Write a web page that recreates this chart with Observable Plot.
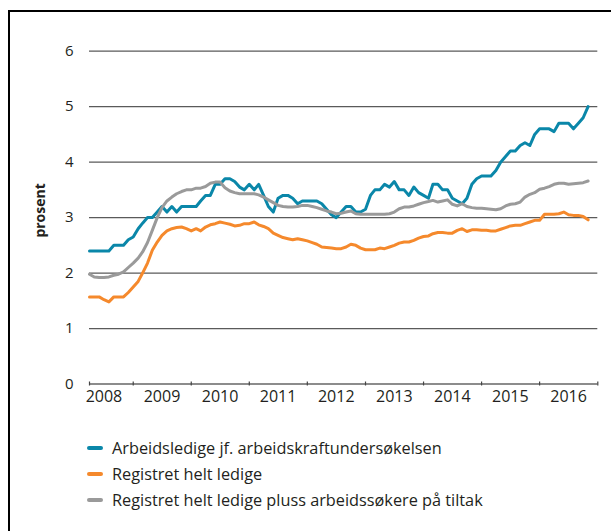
<!DOCTYPE html>
<html><head><meta charset="utf-8">
<script src="https://cdn.jsdelivr.net/npm/d3@7"></script>
<script src="https://cdn.jsdelivr.net/npm/@observablehq/plot@0.6"></script>
<style>
body{margin:0;background:#fff;}
#wrap{position:relative;width:611px;height:531px;overflow:hidden;font-family:"Open Sans",sans-serif;background:#fff;}
#frame{position:absolute;left:8px;top:10px;width:700px;height:600px;border-left:2px solid #000;border-top:2px solid #000;}
#chart{position:absolute;left:0;top:0;}
#legend{position:absolute;left:87px;top:435px;}
.item{display:flex;align-items:center;height:26px;font-size:16.3px;color:#231f20;white-space:nowrap;}
.sw{width:16px;height:4px;margin-right:9px;border-radius:2px;}
</style></head>
<body>
<div id="wrap"><div id="frame"></div><div id="chart"></div><div id="legend"></div></div>
<script>
const names = [
  "Arbeidsledige jf. arbeidskraftundersøkelsen",
  "Registret helt ledige",
  "Registret helt ledige pluss arbeidssøkere på tiltak"
];
const colors = ["#0a87a9", "#f5892c", "#9a9a9a"];
const startMonth = "2008-04-01";
const yTicks = [0, 1, 2, 3, 4, 5, 6];
const gridValues = [1, 2, 3, 4, 5, 6];
const yearLabels = [2008, 2009, 2010, 2011, 2012, 2013, 2014, 2015, 2016];
const yearBoundaries = [2009, 2010, 2011, 2012, 2013, 2014, 2015, 2016, 2017];
const yLabel = "prosent";

const aku = [2.4,2.4,2.4,2.4,2.4,2.5,2.5,2.5,2.6,2.65,2.8,2.9,3.0,3.0,3.1,3.2,3.1,3.2,3.1,3.2,
3.2,3.2,3.2,3.3,3.4,3.4,3.6,3.6,3.7,3.7,3.65,3.55,3.5,3.6,3.5,3.6,3.4,3.2,3.1,3.35,
3.4,3.4,3.35,3.25,3.3,3.3,3.3,3.3,3.25,3.15,3.05,3.0,3.1,3.2,3.2,3.1,3.1,3.15,3.4,3.5,
3.5,3.6,3.55,3.65,3.5,3.5,3.4,3.55,3.45,3.4,3.35,3.6,3.6,3.5,3.5,3.35,3.3,3.25,3.35,3.6,
3.7,3.75,3.75,3.75,3.85,4.0,4.1,4.2,4.2,4.3,4.35,4.3,4.5,4.6,4.6,4.6,4.55,4.7,4.7,4.7,
4.6,4.7,4.8,5.0];
const registrert = [1.57,1.57,1.57,1.52,1.48,1.57,1.57,1.57,1.65,1.75,1.85,2.0,2.18,2.41,2.56,2.68,2.76,2.8,2.82,2.83,
2.8,2.76,2.8,2.76,2.83,2.87,2.89,2.92,2.9,2.88,2.85,2.86,2.89,2.89,2.92,2.87,2.84,2.8,2.72,2.68,
2.64,2.62,2.6,2.62,2.6,2.58,2.55,2.52,2.47,2.46,2.45,2.44,2.44,2.47,2.52,2.5,2.45,2.42,2.42,2.42,
2.45,2.44,2.47,2.5,2.54,2.56,2.56,2.59,2.63,2.66,2.67,2.71,2.73,2.73,2.72,2.72,2.77,2.8,2.75,2.78,
2.78,2.77,2.77,2.76,2.76,2.79,2.82,2.85,2.86,2.86,2.89,2.92,2.95,2.95,3.06,3.06,3.06,3.07,3.1,3.05,
3.04,3.04,3.02,2.96];
const tiltak = [1.98,1.93,1.92,1.92,1.93,1.96,1.98,2.02,2.1,2.18,2.27,2.38,2.55,2.77,3.0,3.18,3.3,3.37,3.43,3.47,
3.5,3.5,3.53,3.53,3.56,3.62,3.64,3.64,3.54,3.48,3.45,3.43,3.43,3.43,3.43,3.41,3.37,3.32,3.27,3.22,
3.2,3.19,3.19,3.2,3.22,3.22,3.2,3.18,3.15,3.12,3.1,3.07,3.08,3.1,3.12,3.07,3.06,3.06,3.06,3.06,
3.06,3.06,3.07,3.1,3.16,3.19,3.19,3.21,3.24,3.27,3.29,3.31,3.28,3.3,3.32,3.24,3.21,3.25,3.2,3.18,
3.17,3.17,3.16,3.15,3.14,3.16,3.21,3.24,3.25,3.28,3.37,3.42,3.45,3.51,3.53,3.56,3.6,3.62,3.62,3.6,
3.61,3.62,3.63,3.66];

const seriesValues = [aku, registrert, tiltak];
const x0 = new Date(startMonth + "T00:00:00Z");
const months = d3.utcMonth.range(x0, d3.utcMonth.offset(x0, aku.length));
const rows = [];
seriesValues.forEach((vals, s) => vals.forEach((v, i) => rows.push({date: months[i], value: v, name: names[s]})));
const tickDates = [x0].concat(yearBoundaries.map(y => new Date(Date.UTC(y, 0, 1))));
const labelDates = yearLabels.map(y => new Date(Date.UTC(y, 6, 1)));

const chart = Plot.plot({
  width: 611, height: 420,
  marginLeft: 89, marginRight: 13.7, marginTop: 50.7, marginBottom: 36.5,
  x: {type: "utc", domain: [x0, new Date(Date.UTC(2017, 0, 1))]},
  y: {domain: [0, 6]},
  color: {domain: names, range: colors},
  style: {fontFamily: "'Open Sans', sans-serif", color: "#231f20", background: "transparent", overflow: "visible"},
  marks: [
    Plot.ruleY(gridValues, {stroke: "#5a5a5a", strokeWidth: 1.3}),
    Plot.ruleY([0], {stroke: "#666", strokeWidth: 1.5}),
    Plot.ruleX(tickDates, {y1: 0, y2: 0, insetTop: -2, insetBottom: -2, stroke: "#444", strokeWidth: 1.2}),
    Plot.axisY({ticks: yTicks, tickSize: 0, tickPadding: 16, tickFormat: "d", fontSize: 15, label: null}),
    Plot.axisX({ticks: labelDates, tickSize: 0, tickPadding: 7, tickFormat: "%Y", fontSize: 16, label: null}),
    Plot.text([yLabel], {frameAnchor: "left", text: d => d, rotate: -90, dx: -49, dy: 20, fontWeight: "bold", fontSize: 14}),
    Plot.line(rows, {x: "date", y: "value", z: "name", stroke: "name", strokeWidth: 3})
  ]
});
document.getElementById("chart").appendChild(chart);

const legend = document.getElementById("legend");
names.forEach((n, i) => {
  const item = document.createElement("div");
  item.className = "item";
  const sw = document.createElement("span");
  sw.className = "sw";
  sw.style.background = colors[i];
  const t = document.createElement("span");
  t.textContent = n;
  item.appendChild(sw); item.appendChild(t);
  legend.appendChild(item);
});
</script>
</body></html>
